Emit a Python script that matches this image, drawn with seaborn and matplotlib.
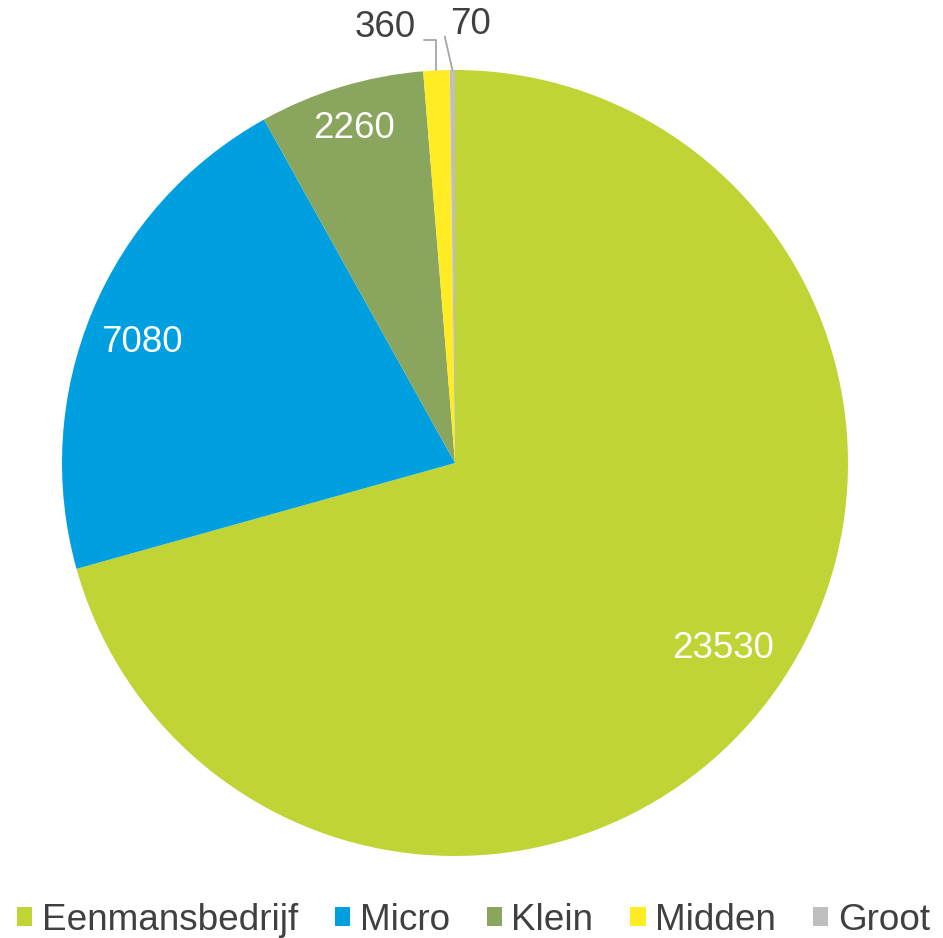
import numpy as np
import matplotlib
matplotlib.use("Agg")
import matplotlib.pyplot as plt
import seaborn as sns
from matplotlib.patches import Patch

sns.set_theme(style="white")
plt.rcParams["font.family"] = ["Liberation Sans", "DejaVu Sans"]

# data
categories = ["Eenmansbedrijf", "Micro", "Klein", "Midden", "Groot"]
values = [23530, 7080, 2260, 360, 70]
colors = ["#C0D435", "#009FDF", "#8AA55E", "#FFEC24", "#BFBFBF"]
text_grey = "#404040"

fig = plt.figure(figsize=(9.43, 9.38), dpi=100)
W, H = 943, 938
cx, cy, R = 455, 463, 393
ax = fig.add_axes([(cx - R) / W, (H - cy - R) / H, 2 * R / W, 2 * R / H])

wedges, _ = ax.pie(values, colors=colors, startangle=90, counterclock=False,
                   radius=1, wedgeprops=dict(linewidth=0))
ax.set_xlim(-1, 1)
ax.set_ylim(-1, 1)
ax.set_aspect("equal")
ax.axis("off")

total = sum(values)
start = 0.0
mids = []
for v in values:
    frac = v / total
    mid = 90 - 360 * (start + frac / 2)
    mids.append(np.deg2rad(mid))
    start += frac

# labels inside the big slices
inside_r = [0.83, 0.855, 0.89]
nudge = [2.5, 1.6, 0.0]  # degrees
for i in range(3):
    a = mids[i] + np.deg2rad(nudge[i])
    ax.text(inside_r[i] * np.cos(a), inside_r[i] * np.sin(a), str(values[i]),
            ha="center", va="center", color="white", fontsize=26.5)

# small slices with leader lines
line_c = "#A6A6A6"
a = mids[3]
ex, ey = np.cos(a), np.sin(a)
ax.plot([ex, ex, -0.079], [ey, 1.076, 1.076], color=line_c, lw=1.3, clip_on=False)
ax.text(-0.178, 1.107, str(values[3]), ha="center", va="center",
        color=text_grey, fontsize=26.5)

a = mids[4]
ex, ey = np.cos(a), np.sin(a)
ax.plot([ex, -0.026], [ey, 1.085], color=line_c, lw=1.3, clip_on=False)
ax.text(0.04, 1.117, str(values[4]), ha="center", va="center",
        color=text_grey, fontsize=26.5)

handles = [Patch(facecolor=c, edgecolor="none") for c in colors]
leg = fig.legend(handles, categories, loc="lower center", ncol=5,
                 bbox_to_anchor=(0.502, 0.0), frameon=False, fontsize=26.6,
                 handlelength=0.42, handleheight=0.42, handletextpad=0.25,
                 columnspacing=1.0, borderaxespad=0, borderpad=0)
for t in leg.get_texts():
    t.set_color(text_grey)

fig.savefig("out.png", dpi=100)
